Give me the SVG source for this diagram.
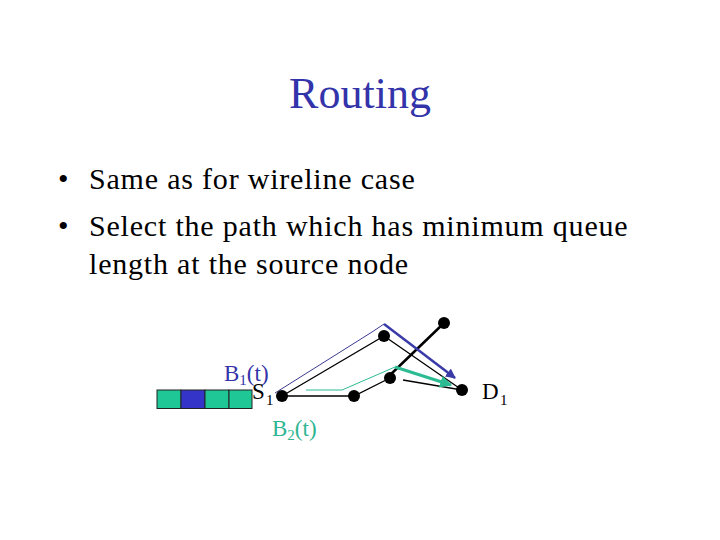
<svg xmlns="http://www.w3.org/2000/svg" width="720" height="540" viewBox="0 0 720 540">
<style>
.title{font-family:"Liberation Serif","Times New Roman",serif;font-size:44px;fill:#3333aa}
.body{font-family:"Liberation Serif","Times New Roman",serif;font-size:30px;fill:#000;letter-spacing:0.8px}
.lbl{font-family:"Liberation Serif","Times New Roman",serif;font-size:23px}
.sub{font-size:15px}
.node{fill:#000}
.thin{stroke:#000;stroke-width:1.3;fill:none}
.thick{stroke:#000;stroke-width:2.5;fill:none}
.cell{stroke:#222;stroke-width:1}
</style>
<defs>
<marker id="aNavy" viewBox="0 0 10 10" refX="9" refY="5" markerWidth="4" markerHeight="4" orient="auto" markerUnits="strokeWidth"><path d="M0,0L10,5L0,10z" fill="#3a3aa8"/></marker>
<marker id="aTeal" viewBox="0 0 10 10" refX="9" refY="5" markerWidth="4" markerHeight="4" orient="auto" markerUnits="strokeWidth"><path d="M0,0L10,5L0,10z" fill="#2dbb93"/></marker>
</defs>
<rect width="720" height="540" fill="#fff"/>
<text class="title" x="360" y="108" text-anchor="middle">Routing</text>
<g id="bullets">
<text class="body" x="58" y="189">•</text>
<text class="body" x="89" y="189">Same as for wireline case</text>
<text class="body" x="58" y="236">•</text>
<text class="body" x="89" y="236">Select the path which has minimum queue</text>
<text class="body" x="89" y="274">length at the source node</text>
</g>
<g id="queue">
<rect class="cell" x="157" y="390" width="24" height="18.5" fill="#1fc796"/>
<rect class="cell" x="181" y="390" width="24" height="18.5" fill="#3434c8"/>
<rect class="cell" x="205" y="390" width="24" height="18.5" fill="#1fc796"/>
<rect class="cell" x="229" y="390" width="23" height="18.5" fill="#1fc796"/>
</g>
<g id="connectors">
<polyline class="thin" points="282,396 354,396 390,378"/>
<polyline class="thin" points="282,396 384,336 462,390"/>
<line class="thin" x1="403" y1="380" x2="462" y2="390"/>
<line class="thick" x1="444" y1="323" x2="388" y2="377"/>
<polyline points="275,393 372,332 384,324" fill="none" stroke="#3a3a90" stroke-width="1"/>
<line x1="384" y1="324" x2="455" y2="378" stroke="#3a3aa8" stroke-width="2.5" marker-end="url(#aNavy)"/>
<polyline points="306,390 342,390 395,367" fill="none" stroke="#2dbb93" stroke-width="1"/>
<line x1="395" y1="367" x2="451" y2="385" stroke="#2dbb93" stroke-width="3" marker-end="url(#aTeal)"/>
</g>
<g id="S1"><circle class="node" cx="282" cy="396" r="6"/></g>
<g id="n2"><circle class="node" cx="354" cy="396" r="6"/></g>
<g id="n3"><circle class="node" cx="390" cy="378" r="6"/></g>
<g id="n4"><circle class="node" cx="384" cy="336" r="6"/></g>
<g id="n5"><circle class="node" cx="444" cy="323" r="6"/></g>
<g id="D1"><circle class="node" cx="462" cy="390" r="6"/></g>
<g id="labels">
<text class="lbl" x="224" y="381" fill="#3333aa">B<tspan class="sub" dy="4">1</tspan><tspan dy="-4">(t)</tspan></text>
<text class="lbl" x="252" y="399" fill="#000">S</text>
<text class="lbl sub" x="266" y="405" fill="#000">1</text>
<text class="lbl" x="482" y="399" fill="#000">D</text>
<text class="lbl sub" x="500" y="405" fill="#000">1</text>
<text class="lbl" x="272" y="436" fill="#2db591">B<tspan class="sub" dy="4">2</tspan><tspan dy="-4">(t)</tspan></text>
</g>
</svg>
